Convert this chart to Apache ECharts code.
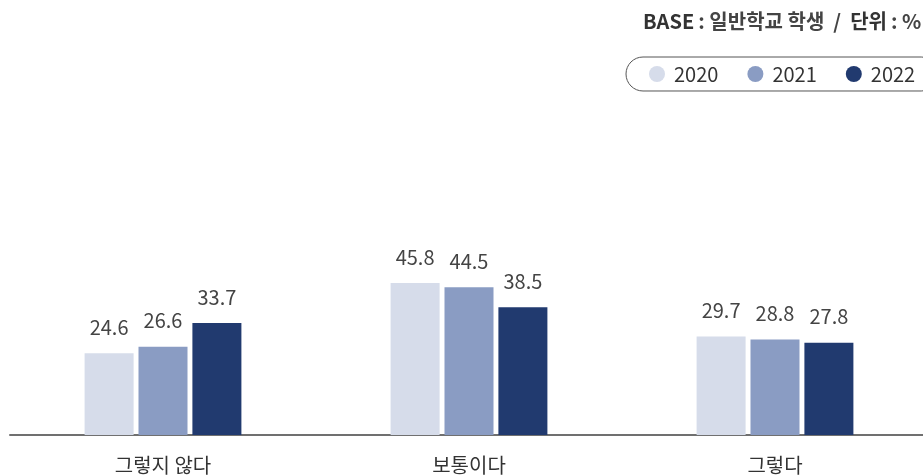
<!DOCTYPE html>
<html>
<head>
<meta charset="utf-8">
<script src="https://cdn.jsdelivr.net/npm/echarts@6/dist/echarts.min.js"></script>
<style>
html,body{margin:0;padding:0;background:#fff;}
#chart{width:923px;height:475px;}
</style>
</head>
<body>
<div id="chart"></div>
<script>
var categories = ['그렇지 않다', '보통이다', '그렇다'];
var years = ['2020', '2021', '2022'];
var values2020 = [24.6, 45.8, 29.7];
var values2021 = [26.6, 44.5, 28.8];
var values2022 = [33.7, 38.5, 27.8];
var colors = ['#d6dcea', '#8a9cc3', '#213a6f'];

var FONT = '"Noto Sans CJK KR", "Noto Sans", sans-serif';
var chart = echarts.init(document.getElementById('chart'));
var seriesData = [values2020, values2021, values2022];

chart.setOption({
  animation: false,
  textStyle: { fontFamily: FONT },
  title: {
    left: 643,
    top: 11,
    padding: 0,
    text: '{b|BASE} {n|: 일반학교 학생  /  }{b|단위} {n|: %}',
    textStyle: {
      fontFamily: FONT,
      rich: {
        b: { fontSize: 20, fontWeight: 'bold', color: '#333', fontFamily: FONT },
        n: { fontSize: 20, color: '#444', fontFamily: FONT }
      }
    }
  },
  legend: {
    left: 626,
    top: 57,
    width: 400,
    padding: [7, 23, 7, 23],
    borderColor: '#555',
    borderWidth: 1,
    borderRadius: 18,
    icon: 'circle',
    itemWidth: 16,
    itemHeight: 16,
    itemGap: 29,
    textStyle: { fontSize: 20, color: '#333', fontFamily: FONT, padding: [0, 0, 0, 4] },
    data: years
  },
  grid: { left: 10, width: 918, top: 103, bottom: 40, containLabel: false, outerBoundsMode: 'none' },
  xAxis: {
    type: 'category',
    data: categories,
    axisLine: { lineStyle: { color: '#707070', width: 2 } },
    axisTick: { show: false },
    axisLabel: { fontSize: 20, color: '#333', margin: 20, fontFamily: FONT }
  },
  yAxis: {
    type: 'value',
    min: 0,
    max: 100,
    show: false,
    splitLine: { show: false }
  },
  series: years.map(function (y, i) {
    return {
      name: y,
      type: 'bar',
      data: seriesData[i],
      barWidth: 49,
      barGap: '10%',
      itemStyle: { color: colors[i] },
      label: {
        show: true,
        position: 'top',
        distance: 16,
        fontSize: 20,
        color: '#444',
        fontFamily: FONT
      }
    };
  })
});
</script>
</body>
</html>
